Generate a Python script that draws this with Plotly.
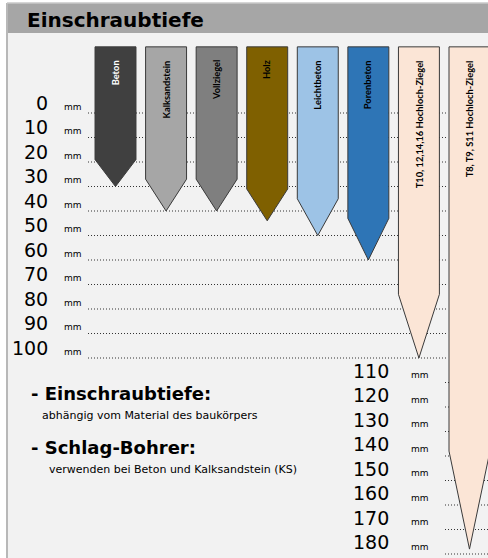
import plotly.graph_objects as go

# ---------------- data ----------------
materials = ["Beton", "Kalksandstein", "Vollziegel", "Holz", "Leichtbeton",
             "Porenbeton", "T10, 12,14,16 Hochloch-Ziegel", "T8, T9, S11 Hochloch-Ziegel"]
tip_depth_mm = [30, 40, 40, 44, 50, 60, 100, 178]
shoulder_depth_mm = [19, 27, 27, 31, 35, 43, 74, 138]
fill_colors = ["#404040", "#a6a6a6", "#7f7f7f", "#7f6000", "#9dc3e6",
               "#2e75b6", "#fbe5d6", "#fbe5d6"]
label_colors = ["#ffffff", "#000000", "#000000", "#000000", "#000000",
                "#000000", "#000000", "#000000"]
upper_ticks = [0, 10, 20, 30, 40, 50, 60, 70, 80, 90, 100]
lower_ticks = [110, 120, 130, 140, 150, 160, 170, 180]
unit = "mm"

# ---------------- geometry / style ----------------
W, H = 488, 558
Y0_PX, PX_PER_MM = 113.0, 2.45          # depth 0 at pixel 113
COL0_PX, COL_STEP_PX = 115.5, 50.57     # centre of first column
ARROW_TOP_MM = -27
HALF_W = 0.405

def xu(px):   # pixel -> column units
    return (px - COL0_PX) / COL_STEP_PX

def px_(x):
    return x / W

def py_(y):
    return 1 - y / H

fig = go.Figure()

# dotted guide lines
gx, gy = [], []
for d in upper_ticks:
    gx += [xu(88), xu(448), None]
    gy += [d, d, None]
for d in lower_ticks:
    gx += [xu(445), xu(492), None]
    gy += [d, d, None]
fig.add_trace(go.Scatter(x=gx, y=gy, mode="lines",
                         line=dict(color="#333333", width=1, dash="1px,2px"),
                         hoverinfo="skip", showlegend=False))

# arrows
for i, name in enumerate(materials):
    xs = [i - HALF_W, i + HALF_W, i + HALF_W, i, i - HALF_W, i - HALF_W]
    ys = [ARROW_TOP_MM, ARROW_TOP_MM, shoulder_depth_mm[i], tip_depth_mm[i],
          shoulder_depth_mm[i], ARROW_TOP_MM]
    fig.add_trace(go.Scatter(x=xs, y=ys, mode="lines", fill="toself",
                             fillcolor=fill_colors[i],
                             line=dict(color="#3a3a3a", width=1),
                             hoverinfo="skip", showlegend=False, name=name))
    fig.add_annotation(x=i, y=-22.3, xref="x", yref="y", text="<b>" + name + "</b>",
                       textangle=-90,
                       showarrow=False, xanchor="center", yanchor="top",
                       font=dict(family="Lato", size=9.3, color=label_colors[i]))

# scale labels
for d in upper_ticks:
    fig.add_annotation(x=xu(50), y=d - 4.2, text=str(d), showarrow=False,
                       xanchor="right", yanchor="middle",
                       font=dict(family="DejaVu Sans", size=19, color="#000000"))
    fig.add_annotation(x=xu(62), y=d - 2.6, text=unit, showarrow=False,
                       xanchor="left", yanchor="middle",
                       font=dict(family="DejaVu Sans", size=9, color="#000000"))
for d in lower_ticks:
    fig.add_annotation(x=xu(391), y=d - 4.8, text=str(d), showarrow=False,
                       xanchor="right", yanchor="middle",
                       font=dict(family="DejaVu Sans", size=19, color="#000000"))
    fig.add_annotation(x=xu(409), y=d - 3.0, text=unit, showarrow=False,
                       xanchor="left", yanchor="middle",
                       font=dict(family="DejaVu Sans", size=9, color="#000000"))

# text block
fig.add_annotation(x=px_(29), y=py_(393), xref="paper", yref="paper",
                   text="<b>- Einschraubtiefe:</b>", showarrow=False,
                   xanchor="left", yanchor="middle",
                   font=dict(family="DejaVu Sans", size=18, color="#000000"))
fig.add_annotation(x=px_(40), y=py_(415), xref="paper", yref="paper",
                   text="abhängig vom Material des baukörpers", showarrow=False,
                   xanchor="left", yanchor="middle",
                   font=dict(family="DejaVu Sans", size=11, color="#000000"))
fig.add_annotation(x=px_(29), y=py_(447), xref="paper", yref="paper",
                   text="<b>- Schlag-Bohrer:</b>", showarrow=False,
                   xanchor="left", yanchor="middle",
                   font=dict(family="DejaVu Sans", size=18, color="#000000"))
fig.add_annotation(x=px_(47), y=py_(469), xref="paper", yref="paper",
                   text="verwenden bei Beton und Kalksandstein (KS)", showarrow=False,
                   xanchor="left", yanchor="middle",
                   font=dict(family="DejaVu Sans", size=11, color="#000000"))

# title
fig.add_annotation(x=px_(25), y=py_(20), xref="paper", yref="paper",
                   text="<b>Einschraubtiefe</b>", showarrow=False,
                   xanchor="left", yanchor="middle",
                   font=dict(family="DejaVu Sans", size=20, color="#000000"))

shapes = [
    dict(type="rect", xref="paper", yref="paper", x0=px_(7), x1=1.01,
         y0=-0.01, y1=py_(3), fillcolor="#f2f2f2", line=dict(width=0), layer="below"),
    dict(type="rect", xref="paper", yref="paper", x0=px_(7), x1=1.01,
         y0=py_(33), y1=py_(3), fillcolor="#a6a6a6", line=dict(width=0), layer="below"),
    dict(type="line", xref="paper", yref="paper", x0=px_(7), x1=px_(7),
         y0=-0.01, y1=py_(3), line=dict(color="#b8b8b8", width=2), layer="below"),
    dict(type="line", xref="paper", yref="paper", x0=px_(7), x1=1.01,
         y0=py_(3), y1=py_(3), line=dict(color="#c8c8c8", width=1.5), layer="below"),
]

fig.update_layout(
    width=W, height=H,
    margin=dict(l=0, r=0, t=0, b=0),
    paper_bgcolor="#ffffff", plot_bgcolor="rgba(0,0,0,0)",
    shapes=shapes,
    xaxis=dict(range=[xu(0), xu(W)], visible=False, fixedrange=True),
    yaxis=dict(range=[(H - Y0_PX) / PX_PER_MM, -Y0_PX / PX_PER_MM],
               visible=False, fixedrange=True),
    showlegend=False,
)

fig.write_html("out.html", config={"displayModeBar": False},
               post_script="document.body.style.margin='0';"
                           "document.body.style.overflow='hidden';")
